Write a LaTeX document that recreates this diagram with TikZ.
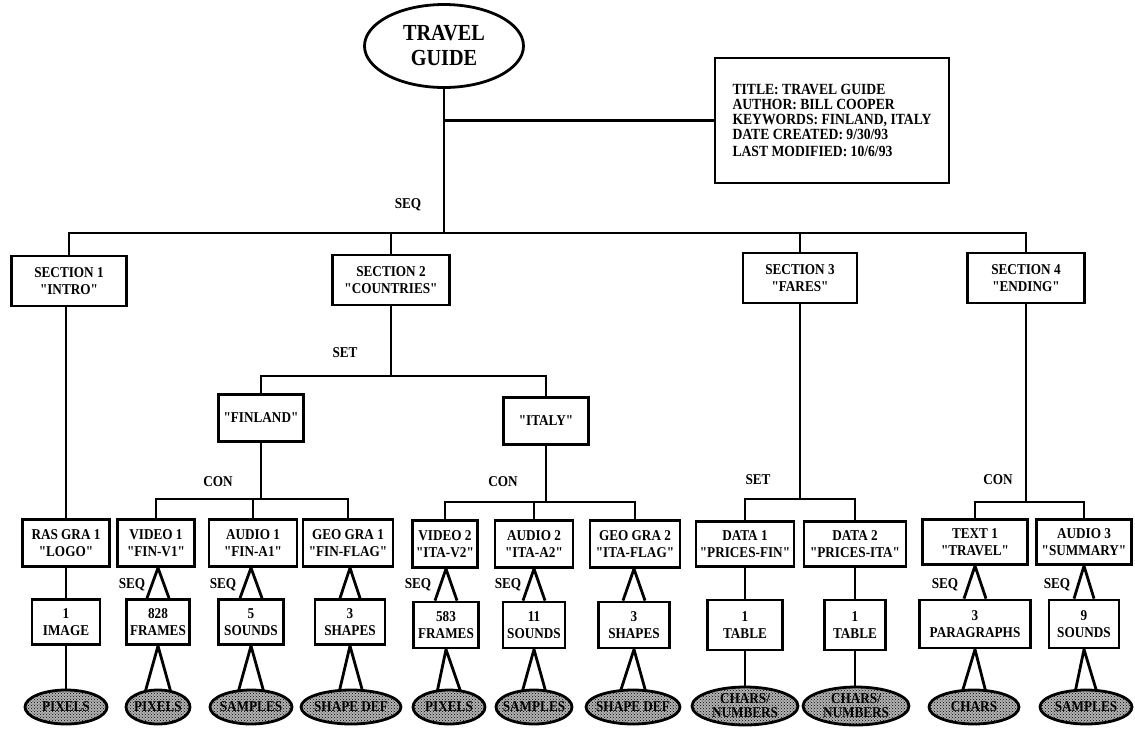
\documentclass[tikz,border=0pt]{standalone}
\usepackage{fontspec}
\setmainfont{Liberation Serif}[Ligatures=TeXOff, FakeStretch=0.88]
\usetikzlibrary{shapes.geometric,patterns,backgrounds}

\begin{document}
\begin{tikzpicture}[x=1pt,y=-1pt,
  every node/.style={font=\bfseries\fontsize{15}{17}\selectfont},
  line/.style={line width=2.8pt, line join=miter},
  box/.style={draw, line width=2.8pt, fill=white, align=center, inner sep=0pt, minimum height=47pt},
  rootell/.style={ellipse, draw, line width=2.8pt, fill=white, align=center, inner sep=0pt,
    minimum width=159pt, minimum height=83pt, font=\bfseries\fontsize{23}{25}\selectfont},
  infobox/.style={draw, line width=2.8pt, fill=white, align=left, inner sep=0pt,
    minimum width=234pt, minimum height=125pt, font=\bfseries\fontsize{15.5}{15}\selectfont},
  dotell/.style={ellipse, draw, line width=2.8pt, inner sep=0pt, minimum height=34pt,
    preaction={fill=gray!60}, pattern=crosshatch dots, pattern color=black},
  etext/.style={align=center, font=\bfseries\fontsize{15}{14}\selectfont},
  rel/.style={inner sep=0pt}
]
\useasboundingbox (0,0) rectangle (1135,734);

% ---------- document root and its attributes ----------
\node[rootell] (root) at (444,46) {TRAVEL\\GUIDE};
\node[infobox] (info) at (832,120.5) {TITLE: TRAVEL GUIDE\\AUTHOR: BILL COOPER\\KEYWORDS: FINLAND, ITALY\\DATE CREATED: 9/30/93\\[2pt]LAST MODIFIED: 10/6/93};

% ---------- sections ----------
\node[box, minimum width=115pt, minimum height=50pt] (sec1) at (69,281) {SECTION 1\\"INTRO"};
\node[box, minimum width=117pt, minimum height=50pt] (sec2) at (391,280) {SECTION 2\\"COUNTRIES"};
\node[box, minimum width=114pt, minimum height=50pt] (sec3) at (800,278) {SECTION 3\\"FARES"};
\node[box, minimum width=117pt, minimum height=50pt] (sec4) at (1026,278) {SECTION 4\\"ENDING"};

\node[box, minimum width=85pt] (fin) at (261,418) {"FINLAND"};
\node[box, minimum width=85pt] (ita) at (546,421) {"ITALY"};

% ---------- media objects ----------
\node[box, minimum width=87pt] (ras)  at (66,543)  {RAS GRA 1\\"LOGO"};
\node[box, minimum width=77pt] (vid1) at (156,543) {VIDEO 1\\"FIN-V1"};
\node[box, minimum width=88pt] (aud1) at (253,543) {AUDIO 1\\"FIN-A1"};
\node[box, minimum width=90pt] (geo1) at (348,543) {GEO GRA 1\\"FIN-FLAG"};
\node[box, minimum width=65pt] (vid2) at (445,544) {VIDEO 2\\"ITA-V2"};
\node[box, minimum width=78pt] (aud2) at (534,544) {AUDIO 2\\"ITA-A2"};
\node[box, minimum width=90pt] (geo2) at (635,544) {GEO GRA 2\\"ITA-FLAG"};
\node[box, minimum width=98pt, minimum height=45pt] (dat1) at (745,544) {DATA 1\\"PRICES-FIN"};
\node[box, minimum width=102pt, minimum height=45pt] (dat2) at (855,544) {DATA 2\\"PRICES-ITA"};
\node[box, minimum width=105pt, minimum height=45pt] (txt1) at (975,542) {TEXT 1\\"TRAVEL"};
\node[box, minimum width=95pt, minimum height=45pt] (aud3) at (1084,542) {AUDIO 3\\"SUMMARY"};

% ---------- contents ----------
\node[box, minimum width=68pt, minimum height=45pt] (img)  at (66,622)  {1\\IMAGE};
\node[box, minimum width=63pt, minimum height=45pt] (frm1) at (158,622) {828\\FRAMES};
\node[box, minimum width=65pt, minimum height=45pt] (snd1) at (251,622) {5\\SOUNDS};
\node[box, minimum width=70pt, minimum height=45pt] (shp1) at (350,622) {3\\SHAPES};
\node[box, minimum width=65pt, minimum height=46pt] (frm2) at (446,625) {583\\FRAMES};
\node[box, minimum width=62pt, minimum height=46pt] (snd2) at (534,625) {11\\SOUNDS};
\node[box, minimum width=71pt, minimum height=46pt] (shp2) at (634,625) {3\\SHAPES};
\node[box, minimum width=75pt, minimum height=50pt] (tab1) at (745,625) {1\\TABLE};
\node[box, minimum width=61pt, minimum height=50pt] (tab2) at (855,625) {1\\TABLE};
\node[box, minimum width=111pt, minimum height=48pt] (par)  at (975,624) {3\\PARAGRAPHS};
\node[box, minimum width=70pt, minimum height=48pt] (snd3) at (1084,624) {9\\SOUNDS};

% ---------- elementary data ----------
\node[dotell, minimum width=82pt, label={[etext]center:PIXELS}] (e1) at (66,707) {};
\node[dotell, minimum width=64pt, label={[etext]center:PIXELS}] (e2) at (158,707) {};
\node[dotell, minimum width=82pt, label={[etext]center:SAMPLES}] (e3) at (251,707) {};
\node[dotell, minimum width=100pt, label={[etext]center:SHAPE DEF}] (e4) at (351,707) {};
\node[dotell, minimum width=72pt, label={[etext]center:PIXELS}] (e5) at (449,707) {};
\node[dotell, minimum width=76pt, label={[etext]center:SAMPLES}] (e6) at (534,707) {};
\node[dotell, minimum width=94pt, label={[etext]center:SHAPE DEF}] (e7) at (633,707) {};
\node[dotell, minimum width=106pt, minimum height=38pt, label={[etext]center:CHARS/\\NUMBERS}] (e8) at (745,706) {};
\node[dotell, minimum width=106pt, minimum height=38pt, label={[etext]center:CHARS/\\NUMBERS}] (e9) at (856,706) {};
\node[dotell, minimum width=90pt, label={[etext]center:CHARS}] (e10) at (974,707) {};
\node[dotell, minimum width=92pt, label={[etext]center:SAMPLES}] (e11) at (1086,707) {};

% ---------- relation labels ----------
\node[rel] (lseq0) at (408,205) {SEQ};
\node[rel] (lset2) at (345,353) {SET};
\node[rel] (lconf) at (218,482) {CON};
\node[rel] (lconi) at (503,482) {CON};
\node[rel] (lset3) at (758,480) {SET};
\node[rel] (lcon4) at (998,480) {CON};
\node[rel] (lsq1) at (132,585) {SEQ};
\node[rel] (lsq2) at (223,585) {SEQ};
\node[rel] (lsq3) at (418,585) {SEQ};
\node[rel] (lsq4) at (508,585) {SEQ};
\node[rel] (lsq5) at (945,585) {SEQ};
\node[rel] (lsq6) at (1057,585) {SEQ};

% ---------- junction points ----------
\coordinate (b0) at (444,233);
\coordinate (b2) at (391,376);
\coordinate (bf) at (261,499);
\coordinate (bi) at (546,502);
\coordinate (b3) at (800,499);
\coordinate (b4) at (1026,502);

\begin{scope}[on background layer]
  % root: sequence of sections, attribute box
  \draw[line] (root.south) -- (b0);
  \draw[line] (root.south |- info.west) -- (info.west);
  \draw[line] (sec1.north) |- (b0) -| (sec4.north);
  \draw[line] (b0) -| (sec2.north);
  \draw[line] (b0) -| (sec3.north);

  % section 1
  \draw[line] (ras.north |- sec1.south) -- (ras.north);
  \draw[line] (img.north |- ras.south) -- (img.north);
  \draw[line] (img.south) -- (e1.north);

  % section 2: set of countries
  \draw[line] (sec2.south) -- (b2);
  \draw[line] (fin.north) |- (b2) -| (ita.north);

  % Finland
  \draw[line] (fin.south) -- (bf);
  \draw[line] (vid1.north) |- (bf) -| (geo1.north);
  \draw[line] (aud1.north) -- (aud1.north |- bf);
  \draw[line] ([xshift=-11pt]frm1.north) -- (frm1.north |- vid1.south) -- ([xshift=11pt]frm1.north);
  \draw[line] ([xshift=-11pt]snd1.north) -- (snd1.north |- aud1.south) -- ([xshift=11pt]snd1.north);
  \draw[line] ([xshift=-10pt]shp1.north) -- (shp1.north |- geo1.south) -- ([xshift=10pt]shp1.north);
  \draw[line] ([xshift=-13pt,yshift=-4pt]e2.north) -- (frm1.south) -- ([xshift=13pt,yshift=-4pt]e2.north);
  \draw[line] ([xshift=-13pt,yshift=-4pt]e3.north) -- (snd1.south) -- ([xshift=13pt,yshift=-4pt]e3.north);
  \draw[line] ([xshift=-12pt,yshift=-4pt]e4.north) -- (shp1.south) -- ([xshift=12pt,yshift=-4pt]e4.north);

  % Italy
  \draw[line] (ita.south) -- (bi);
  \draw[line] (vid2.north) |- (bi) -| (geo2.north);
  \draw[line] (aud2.north) -- (aud2.north |- bi);
  \draw[line] ([xshift=-11pt]frm2.north) -- (frm2.north |- vid2.south) -- ([xshift=11pt]frm2.north);
  \draw[line] ([xshift=-11pt]snd2.north) -- (snd2.north |- aud2.south) -- ([xshift=11pt]snd2.north);
  \draw[line] ([xshift=-11pt]shp2.north) -- (shp2.north |- geo2.south) -- ([xshift=11pt]shp2.north);
  \draw[line] ([xshift=-12pt,yshift=-4pt]e5.north) -- (frm2.south) -- ([xshift=12pt,yshift=-4pt]e5.north);
  \draw[line] ([xshift=-12pt,yshift=-4pt]e6.north) -- (snd2.south) -- ([xshift=12pt,yshift=-4pt]e6.north);
  \draw[line] ([xshift=-13pt,yshift=-4pt]e7.north) -- (shp2.south) -- ([xshift=13pt,yshift=-4pt]e7.north);

  % section 3: set of price tables
  \draw[line] (sec3.south) -- (b3);
  \draw[line] (dat1.north) |- (b3) -| (dat2.north);
  \draw[line] (tab1.north |- dat1.south) -- (tab1.north);
  \draw[line] (tab2.north |- dat2.south) -- (tab2.north);
  \draw[line] (tab1.south) -- (e8.north);
  \draw[line] (tab2.south) -- (e9.north -| tab2.south);

  % section 4
  \draw[line] (sec4.south) -- (b4);
  \draw[line] (txt1.north) |- (b4) -| (aud3.north);
  \draw[line] ([xshift=-11pt]par.north) -- (par.north |- txt1.south) -- ([xshift=11pt]par.north);
  \draw[line] ([xshift=-10pt]snd3.north) -- (snd3.north |- aud3.south) -- ([xshift=10pt]snd3.north);
  \draw[line] ([xshift=-12pt,yshift=-4pt]e10.north) -- (par.south) -- ([xshift=12pt,yshift=-4pt]e10.north);
  \draw[line] ([xshift=-11pt,yshift=-4pt]e11.north) -- (snd3.south) -- ([xshift=11pt,yshift=-4pt]e11.north);
\end{scope}
\end{tikzpicture}
\end{document}
